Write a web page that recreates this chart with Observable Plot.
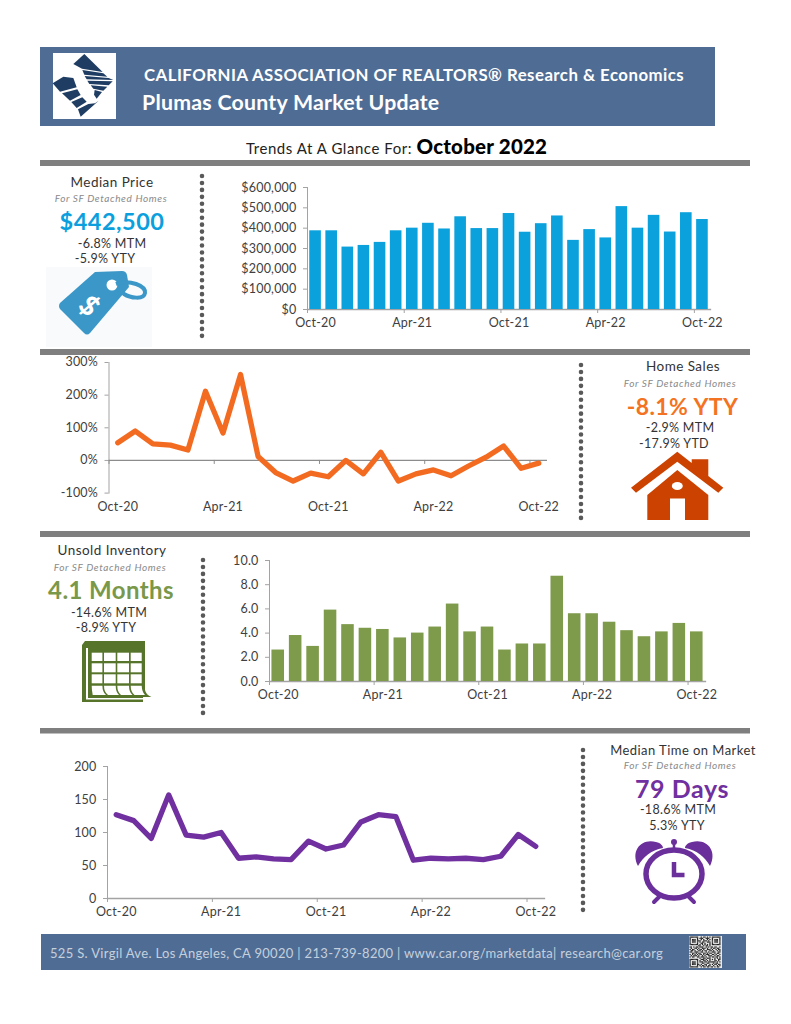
<!DOCTYPE html>
<html>
<head>
<meta charset="utf-8">
<script src="https://cdn.jsdelivr.net/npm/d3@7"></script>
<script src="https://cdn.jsdelivr.net/npm/@observablehq/plot@0.6"></script>
<style>
html,body{margin:0;padding:0;background:#fff;}
#page{position:relative;width:791px;height:1024px;overflow:hidden;font-family:Lato,sans-serif;color:#333;}
#art{position:absolute;left:0;top:0;}
.t{position:absolute;transform:translate(-50%,-50%);white-space:nowrap;line-height:1;}
.h{font-size:13.5px;letter-spacing:.45px;color:#333;}
.s{font-size:10px;font-style:italic;color:#8a8a8a;letter-spacing:.62px;}
.b{font-weight:700;}
.m{font-size:12.5px;letter-spacing:.3px;color:#333;}
.c{position:absolute;}
.c svg{display:block;overflow:visible;}
</style>
</head>
<body>
<div id="page">
<svg id="art" width="791" height="1024" viewBox="0 0 791 1024">
  <rect x="40" y="47" width="675" height="79" fill="#4f6d94"/>
  <rect x="53" y="53" width="63" height="66" fill="#fff"/>
  <g transform="translate(50,50) scale(.3333)" fill="#1f3d63">
    <polygon points="70,42 103,12 158,66 96,56"/>
    <polygon points="97,60 160,70 172,80 103,74"/>
    <polygon points="104,78 176,84 190,90 110,88"/>
    <polygon points="112,92 188,94 176,106 118,102"/>
    <polygon points="122,106 172,110 160,122 130,116"/>
    <polygon points="134,120 156,126 140,146 132,134"/>
    <polygon points="8,100 40,80 70,84 80,112 30,125"/>
    <polygon points="36,130 82,118 92,135 60,152"/>
    <polygon points="64,156 97,142 110,155 80,174"/>
    <polygon points="84,178 115,162 135,160 146,152 92,200"/>
  </g>
  <g fill="#7f7f7f">
    <rect x="40" y="160" width="710" height="6"/>
    <rect x="40" y="349" width="710" height="6"/>
    <rect x="40" y="531" width="710" height="6"/>
    <rect x="40" y="728" width="710" height="5.5"/>
  </g>
  <rect x="41" y="934" width="705" height="36" fill="#4f6d94"/>
  <g stroke="#595959" stroke-width="4.6" stroke-linecap="round" stroke-dasharray="0 6.95" fill="none">
    <line x1="202" y1="176" x2="202" y2="339"/>
    <line x1="581" y1="365" x2="581" y2="524"/>
    <line x1="203" y1="560" x2="203" y2="714"/>
    <line x1="583" y1="750" x2="583" y2="915"/>
  </g>
  <!-- price tag -->
  <rect x="46" y="267" width="106" height="80" fill="#f8fafc"/>
  <path d="M95 272 L122 271 Q126 271 127 275 L129 287 L90 333 Q87 336 84 333 L60 309 Q58 306 60 303 Z" fill="#3a97c7"/>
  <circle cx="112" cy="285" r="5.5" fill="#fff"/>
  <path d="M116 284 C130 279 146 286 145 293 C144 300 130 298 124 294 C120 291 119 289 117 288" fill="none" stroke="#3a97c7" stroke-width="4"/>
  <text x="90" y="305" font-family="Lato,sans-serif" font-weight="900" font-size="27" fill="#fff" text-anchor="middle" dominant-baseline="central" transform="rotate(45 90 305)">$</text>
  <!-- house -->
  <g fill="#cc4200">
    <polygon points="631,487.7 677.3,451.7 691.7,463 691.7,459.3 708.3,459.3 708.3,476 723.3,487.7 718.3,492.7 677.3,461.7 636,492.7"/>
    <polygon points="677.3,470 708.3,495 708.3,520 647.3,520 647.3,495"/>
  </g>
  <ellipse cx="677.3" cy="486" rx="5.5" ry="4" fill="#fff"/>
  <rect x="670" y="498.5" width="15" height="22" fill="#fff"/>
  <!-- calendar -->
  <path d="M85 641 H145 V690 Q146 695 151.500 697 H143 V702 H82 V645 Z" fill="#56752a"/>
  <g fill="#fff">
    <rect x="91.700" y="652.700" width="10.700" height="8.300"/><rect x="104" y="652.700" width="11.700" height="8.300"/><rect x="117.300" y="652.700" width="11.700" height="8.300"/><rect x="130.700" y="652.700" width="11" height="8.300"/>
    <rect x="91.700" y="663.300" width="10.700" height="9"/><rect x="104" y="663.300" width="11.700" height="9"/><rect x="117.300" y="663.300" width="11.700" height="9"/><rect x="130.700" y="663.300" width="11" height="9"/>
    <rect x="91.700" y="674.300" width="10.700" height="9"/><rect x="104" y="674.300" width="11.700" height="9"/><rect x="117.300" y="674.300" width="11.700" height="9"/><rect x="130.700" y="674.300" width="11" height="9"/>
    <path d="M91.700 685.700 H102.400 Q102.400 692 106 695 H92.700 Q91.700 690 91.700 685.700 Z"/>
    <path d="M104 685.700 H115.700 Q115.700 692 119 695 H108 Q104 692 104 685.700 Z"/>
    <path d="M117.300 685.700 H129 Q129 692 132.500 695 H121 Q117.300 692 117.300 685.700 Z"/>
    <path d="M130.700 685.700 H141.700 Q142 692 145 695 H134.500 Q130.700 692 130.700 685.700 Z"/>
    <rect x="86" y="698" width="57" height="1.500"/>
    <rect x="86" y="648" width="2" height="50"/>
  </g>
  <!-- clock -->
  <g fill="#6b2f9b" stroke="none">
    <path d="M638 866 C630 850 642 838 656 842 C661 843 663 846 663 848 C651 850 643 857 638 866 Z"/>
    <path d="M710 866 C718 850 706 838 692 842 C687 843 685 846 685 848 C697 850 705 857 710 866 Z"/>
    <circle cx="674" cy="842" r="3"/>
  </g>
  <g fill="none" stroke="#6b2f9b">
    <ellipse cx="674" cy="874" rx="28" ry="24" stroke-width="5.5"/>
    <line x1="674" y1="842" x2="674" y2="852" stroke-width="2.500"/>
    <path d="M674 862 V875 H684.500" stroke-width="4.500"/>
    <path d="M654 902 L660 896 M694 902 L688 896" stroke-width="4" stroke-linecap="round"/>
  </g>
  <!-- QR -->
  <g id="qr"></g>
</svg>

<div class="t" style="left:144px;top:75px;transform:translateY(-50%);font-size:16.800px;font-weight:700;color:#fff;letter-spacing:.48px;">CALIFORNIA ASSOCIATION OF REALTORS® Research &amp; Economics</div>
<div class="t" style="left:142px;top:103px;transform:translateY(-50%);font-size:21.300px;font-weight:700;color:#fff;letter-spacing:.25px;">Plumas County Market Update</div>
<div class="t" style="left:246px;top:146px;transform:translateY(-50%);font-size:15px;letter-spacing:.55px;color:#222;">Trends At A Glance For: <span style="font-size:20.500px;font-weight:900;color:#000;letter-spacing:.2px;">October 2022</span></div>

<div class="t h" style="left:112px;top:183px;">Median Price</div>
<div class="t s" style="left:111px;top:198px;">For SF Detached Homes</div>
<div class="t b" style="left:112px;top:222px;color:#0ba0dd;font-size:23.500px;letter-spacing:.5px;">$442,500</div>
<div class="t m" style="left:112px;top:244px;">-6.8% MTM</div>
<div class="t m" style="left:105px;top:259px;">-5.9% YTY</div>

<div class="t h" style="left:683px;top:367px;">Home Sales</div>
<div class="t s" style="left:680px;top:383px;">For SF Detached Homes</div>
<div class="t b" style="left:682.500px;top:406px;color:#f47322;font-size:23px;letter-spacing:.4px;">-8.1% YTY</div>
<div class="t m" style="left:680px;top:428px;">-2.9% MTM</div>
<div class="t m" style="left:674px;top:444px;">-17.9% YTD</div>

<div class="t h" style="left:112px;top:551px;">Unsold Inventory</div>
<div class="t s" style="left:110px;top:567px;">For SF Detached Homes</div>
<div class="t b" style="left:111px;top:590px;color:#7a984a;font-size:24px;letter-spacing:.4px;">4.1 Months</div>
<div class="t m" style="left:109px;top:613px;">-14.6% MTM</div>
<div class="t m" style="left:106px;top:628px;">-8.9% YTY</div>

<div class="t h" style="left:683px;top:750px;font-size:13px;">Median Time on Market</div>
<div class="t s" style="left:680px;top:765px;">For SF Detached Homes</div>
<div class="t b" style="left:682px;top:788px;color:#7030a0;font-size:25px;letter-spacing:.6px;">79 Days</div>
<div class="t m" style="left:678px;top:810px;">-18.6% MTM</div>
<div class="t m" style="left:677px;top:826px;">5.3% YTY</div>

<div class="t" style="left:50px;top:953px;transform:translateY(-50%);font-size:13px;letter-spacing:.32px;color:#c5d0de;">525 S. Virgil Ave. Los Angeles, CA 90020 | 213-739-8200 | www.car.org/marketdata| research@car.org</div>

<div id="c1" class="c"></div>
<div id="c2" class="c"></div>
<div id="c3" class="c"></div>
<div id="c4" class="c"></div>
</div>

<script>
const months = ["Oct-20","Nov-20","Dec-20","Jan-21","Feb-21","Mar-21","Apr-21","May-21","Jun-21","Jul-21","Aug-21","Sep-21","Oct-21","Nov-21","Dec-21","Jan-22","Feb-22","Mar-22","Apr-22","May-22","Jun-22","Jul-22","Aug-22","Sep-22","Oct-22"];
const tickMonths = ["Oct-20","Apr-21","Oct-21","Apr-22","Oct-22"];
const medianPrice = [387000,387000,307000,315000,330000,387000,400000,424000,396000,456000,398000,398000,472000,380000,422000,460000,340000,393000,352000,506000,400000,463000,381000,476000,442500];
const salesChange = [54,90,51,47,32,212,84,263,12,-37,-63,-39,-50,0,-41,25,-63,-41,-29,-47,-17,10,44,-24,-8.1];
const unsoldMonths = [2.6,3.8,2.9,5.9,4.7,4.4,4.3,3.6,4.0,4.5,6.4,4.1,4.5,2.6,3.1,3.1,8.7,5.6,5.6,4.9,4.2,3.7,4.1,4.8,4.1];
const medianDays = [127,118,91,157,96,93,100,61,63,60,59,87,75,81,116,127,124,58,61,60,61,59,64,97,79];
const priceTicks = [0,100000,200000,300000,400000,500000,600000];
const salesTicks = [-100,0,100,200,300];
const unsoldTicks = [0,2,4,6,8,10];
const daysTicks = [0,50,100,150,200];

const axisGrey = "#a3a3a3", textGrey = "#404040", FONT = 12.5;
const rows = (vals) => months.map((m,i)=>({m, v: vals[i]}));

function chart(id, o){
  const mt=8, mb=26, mr=30;
  const iw=o.right-o.left, ih=o.bottom-o.top;
  const step=iw/months.length, p=o.pad||.28;
  const ml=o.left-o.boxLeft;
  const el=document.getElementById(id);
  el.style.left=o.boxLeft+"px"; el.style.top=(o.top-mt)+"px";
  const zeroOffset = o.zeroLine ? ih*(0-o.domain[0])/(o.domain[1]-o.domain[0]) : 0;
  const marks=[
    Plot.frame({anchor:"left",stroke:axisGrey}),
    o.zeroLine ? Plot.ruleY([0],{stroke:"#8c8c8c",strokeWidth:1.300}) : Plot.frame({anchor:"bottom",stroke:axisGrey,strokeWidth:1.300}),
    Plot.axisY({ticks:o.ticks,tickFormat:o.fmt,tickSize:4,tickPadding:7,stroke:axisGrey,fill:textGrey,fontSize:FONT,label:null}),
    Plot.axisX({ticks:tickMonths,text:null,tickSize:4,dx:-step/2,dy:-zeroOffset,stroke:o.zeroLine?"#8c8c8c":axisGrey,label:null}),
    Plot.axisX({ticks:tickMonths,tickSize:0,tickPadding:9,fill:textGrey,fontSize:FONT,label:null})
  ];
  if(o.bar) marks.splice(2,0,Plot.barY(rows(o.vals),{x:"m",y:"v",fill:o.color}));
  else marks.push(Plot.lineY(rows(o.vals),{x:"m",y:"v",stroke:o.color,strokeWidth:5.300,strokeLinejoin:"round"}));
  el.appendChild(Plot.plot({
    width:ml+iw+mr,height:ih+mt+mb,marginLeft:ml,marginRight:mr,marginTop:mt,marginBottom:mb,
    style:{fontFamily:"Lato,sans-serif",background:"transparent",overflow:"visible",letterSpacing:".2px"},
    x:{type:"band",domain:months,paddingInner:p,paddingOuter:p/2,round:false,axis:null},
    y:{domain:o.domain,axis:null},
    marks
  }));
}
chart("c1",{boxLeft:225,left:307,right:710,top:186.700,bottom:308.700,domain:[0,600000],ticks:priceTicks,fmt:d3.format("$,"),vals:medianPrice,color:"#0aa1dc",bar:true});
chart("c2",{boxLeft:50,left:108.500,right:547,top:361.700,bottom:492.300,domain:[-100,300],ticks:salesTicks,fmt:d=>d+"%",vals:salesChange,color:"#f26b21",zeroLine:true});
chart("c3",{boxLeft:220,left:269,right:705,top:560,bottom:681,domain:[0,10],ticks:unsoldTicks,fmt:d3.format(".1f"),vals:unsoldMonths,color:"#7e9a4b",bar:true});
chart("c4",{boxLeft:55,left:107,right:544,top:766,bottom:898,domain:[0,200],ticks:daysTicks,fmt:d=>d,vals:medianDays,color:"#7030a0"});

/* QR glyph, hand-typed look-alike of the corner code */
const qrRows = ["1111111001011010101111111","1000001011100111001000001","1011101001010010101011101","1011101110011101001011101","1011101010110011101011101","1000001001101000101000001","1111111010101010101111111","0000000110010110100000000","1101011011100101011011001","0100110100111010010110110","1011001011010011101001011","0110100110101100110100101","1100111001100101001110011","0011010110011010110010110","1010101011010111001101001","0101110100101001110010110","1011001101110100101101101","0000000010011011100010101","1111111001110100101010011","1000001010011010100011010","1011101011101101111110101","1011101000110011000101100","1011101101001100101011011","1000001010110101100100101","1111111001011011011010110"];
const qr=document.getElementById("qr"), NS="http://www.w3.org/2000/svg";
const addR=(x,y,w,h,f)=>{const r=document.createElementNS(NS,"rect");r.setAttribute("x",x);r.setAttribute("y",y);r.setAttribute("width",w);r.setAttribute("height",h);r.setAttribute("fill",f);qr.appendChild(r);};
addR(689,936,33,32,"#e8e8e8");
const cell=31/25;
qrRows.forEach((row,j)=>[...row].forEach((c,i)=>{if(c==="1")addR(689.5+i*cell,936.5+j*cell,cell,cell,"#222");}));
</script>
</body>
</html>
